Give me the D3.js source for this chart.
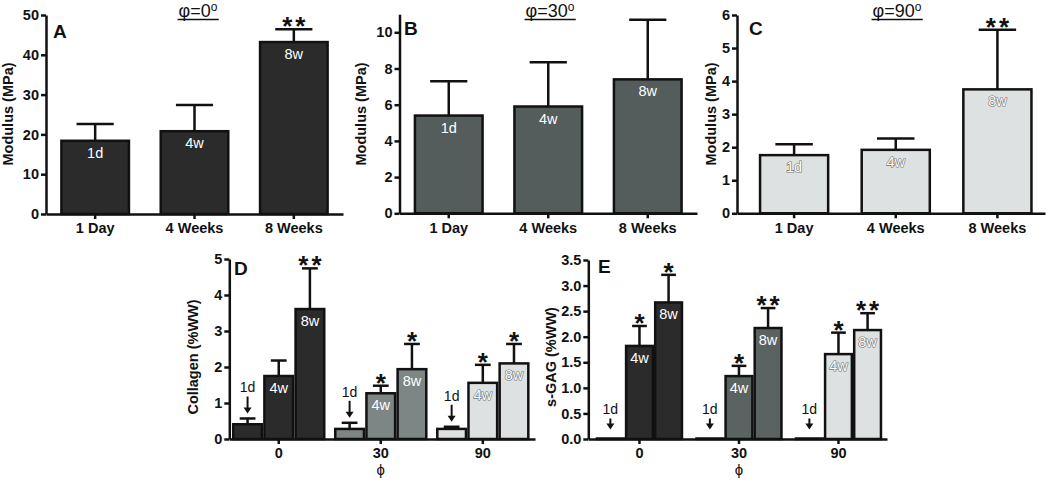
<!DOCTYPE html>
<html>
<head>
<meta charset="utf-8">
<script src="https://cdn.jsdelivr.net/npm/d3@7"></script>
<style>
  html, body { margin: 0; padding: 0; background: #fff; }
  svg { display: block; }
  text { font-family: "Liberation Sans", Arial, sans-serif; }
</style>
</head>
<body>
<svg id="chart" width="1050" height="484"></svg>
<script>
// ---------- DATA ----------
const timeCats = ["1 Day", "4 Weeks", "8 Weeks"];
const timeTags = ["1d", "4w", "8w"];

const modA = [18.4, 20.8, 43.2];
const sdA  = [4.2, 6.6, 3.2];
const sigA = ["", "", "**"];

const modB = [5.4, 5.9, 7.4];
const sdB  = [1.9, 2.45, 3.3];
const sigB = ["", "", ""];

const modC = [1.76, 1.92, 3.75];
const sdC  = [0.33, 0.34, 1.8];
const sigC = ["", "", "**"];

const angles = ["0", "30", "90"];

const col1d = [0.41, 0.28, 0.28];
const col4w = [1.75, 1.27, 1.56];
const col8w = [3.61, 1.94, 2.10];
const colSd1d = [0.16, 0.17, 0.06];
const colSd4w = [0.43, 0.21, 0.50];
const colSd8w = [1.13, 0.70, 0.54];
const colSig4w = ["", "*", "*"];
const colSig8w = ["**", "*", "*"];

const gag1d = [0.01, 0.01, 0.01];
const gag4w = [1.82, 1.23, 1.66];
const gag8w = [2.67, 2.17, 2.13];
const gagSd1d = [0, 0, 0];
const gagSd4w = [0.39, 0.20, 0.42];
const gagSd8w = [0.54, 0.39, 0.33];
const gagSig4w = ["*", "*", "*"];
const gagSig8w = ["*", "**", "**"];

const ticksA = [0, 10, 20, 30, 40, 50];
const ticksB = [0, 2, 4, 6, 8, 10];
const ticksC = [0, 1, 2, 3, 4, 5, 6];
const ticksD = [0, 1, 2, 3, 4, 5];
const ticksE = [0, 0.5, 1, 1.5, 2, 2.5, 3, 3.5];

// ---------- STYLE ----------
const DARK = "#2b2b2b", MID = "#545c5c", MIDL = "#7d8585", LIGHT = "#dde1e1";
const FONT = '"Liberation Sans", Arial, sans-serif';
const svg = d3.select("#chart");

function styleAxis(g) {
  g.selectAll(".domain").attr("stroke", "#111").attr("stroke-width", 2.5);
  g.selectAll(".tick line").attr("stroke", "#111").attr("stroke-width", 2.5);
  g.selectAll(".tick text").attr("fill", "#111").attr("font-weight", "bold")
    .attr("font-size", 14.5).attr("font-family", FONT);
}

function yLabel(x, yc, txt) {
  svg.append("text").attr("transform", `translate(${x},${yc}) rotate(-90)`)
    .attr("text-anchor", "middle").attr("font-weight", "bold").attr("font-size", 14.5)
    .attr("fill", "#111").text(txt);
}

function letter(x, y, t) {
  svg.append("text").attr("x", x).attr("y", y).attr("font-size", 19)
    .attr("font-weight", "bold").attr("fill", "#111").text(t);
}

function title(cx, y, ang) {
  const t = svg.append("text").attr("x", cx).attr("y", y).attr("text-anchor", "middle")
    .attr("font-size", 18).attr("fill", "#111");
  t.append("tspan").text("φ=" + ang);
  t.append("tspan").attr("font-size", 12).attr("dy", -6).text("o");
  const bb = t.node().getBBox();
  svg.append("line").attr("x1", bb.x - 1).attr("x2", bb.x + bb.width + 1)
    .attr("y1", y + 3).attr("y2", y + 3).attr("stroke", "#111").attr("stroke-width", 1.5);
}

function bar(g, x, w, y, y0, yErr, fill, tag, tagFill, sig) {
  const cx = x + w / 2, cap = w * 0.55;
  if (yErr < y - 0.5) {
    g.append("line").attr("x1", cx).attr("x2", cx).attr("y1", y).attr("y2", yErr)
      .attr("stroke", "#111").attr("stroke-width", 2.5);
    g.append("line").attr("x1", cx - cap / 2).attr("x2", cx + cap / 2).attr("y1", yErr).attr("y2", yErr)
      .attr("stroke", "#111").attr("stroke-width", 2.5);
  }
  g.append("rect").attr("x", x).attr("y", y).attr("width", w).attr("height", Math.max(0, y0 - y))
    .attr("fill", fill).attr("stroke", "#111").attr("stroke-width", 2.5);
  if (tag) {
    g.append("text").attr("x", cx).attr("y", y + 17).attr("text-anchor", "middle")
      .attr("font-size", 14.5).attr("fill", "#fff")
      .attr("stroke", tagFill === "outline" ? "#6e7272" : "none").attr("stroke-width", 1.2)
      .attr("paint-order", "stroke")
      .text(tag);
  }
  if (sig) {
    g.append("text").attr("x", cx + 1.5).attr("y", yErr + 6).attr("text-anchor", "middle")
      .attr("font-size", 26).attr("font-weight", "bold").attr("letter-spacing", 3)
      .attr("fill", "#111").text(sig);
  }
}

// ---------- SIMPLE PANELS (A, B, C) ----------
function simplePanel(cfg) {
  const x = d3.scaleBand().domain(timeCats).range([cfg.x0, cfg.x1])
    .paddingInner(cfg.pi).paddingOuter(cfg.po).align(cfg.align);
  const y = d3.scaleLinear().domain([0, cfg.max]).range([cfg.y0, cfg.y1]);
  const g = svg.append("g");
  timeCats.forEach((c, i) => {
    bar(g, x(c), x.bandwidth(), y(cfg.vals[i]), y(0), y(cfg.vals[i] + cfg.sd[i]),
        cfg.fill, timeTags[i], cfg.tagStyle, cfg.sig[i]);
  });
  const ya = svg.append("g").attr("transform", `translate(${cfg.x0},0)`)
    .call(d3.axisLeft(y).tickValues(cfg.ticks).tickFormat(d3.format("d"))
      .tickSize(5).tickSizeOuter(0).tickPadding(2));
  styleAxis(ya);
  const xa = svg.append("g").attr("transform", `translate(0,${cfg.y0})`)
    .call(d3.axisBottom(x).tickSize(5).tickSizeOuter(0).tickPadding(4));
  styleAxis(xa);
}

simplePanel({ x0: 46, x1: 343, y0: 214, y1: 15, max: 50, pi: 0.32, po: 0.155, align: 0.5,
  vals: modA, sd: sdA, sig: sigA, ticks: ticksA, fill: DARK, tagStyle: "plain" });
simplePanel({ x0: 399.5, x1: 697, y0: 213.3, y1: 14.2, max: 11, pi: 0.32, po: 0.155, align: 0.5,
  vals: modB, sd: sdB, sig: sigB, ticks: ticksB, fill: MID, tagStyle: "plain" });
simplePanel({ x0: 737, x1: 1045, y0: 213.3, y1: 15, max: 6, pi: 0.33, po: 0.18, align: 0.63,
  vals: modC, sd: sdC, sig: sigC, ticks: ticksC, fill: LIGHT, tagStyle: "outline" });

yLabel(13, 114, "Modulus (MPa)");
yLabel(366, 114, "Modulus  (MPa)");
yLabel(716, 114, "Modulus (MPa)");
letter(53, 37.5, "A");
letter(404, 35, "B");
letter(749, 35, "C");
title(198, 16.5, "0");
title(550, 16.5, "30");
title(897, 16.5, "90");

// ---------- GROUPED PANELS (D, E) ----------
function arrow(cx, tipY, len, label) {
  svg.append("line").attr("x1", cx).attr("x2", cx).attr("y1", tipY - len).attr("y2", tipY - 5)
    .attr("stroke", "#111").attr("stroke-width", 2);
  svg.append("path").attr("d", `M${cx - 4},${tipY - 6} L${cx + 4},${tipY - 6} L${cx},${tipY} Z`)
    .attr("fill", "#111");
  svg.append("text").attr("x", cx).attr("y", tipY - len - 4).attr("text-anchor", "middle")
    .attr("font-size", 14).attr("fill", "#111").text(label);
}

function groupPanel(cfg) {
  const x = d3.scaleBand().domain(angles).range([cfg.x0, cfg.x1])
    .paddingInner(cfg.pi).paddingOuter(cfg.po).align(cfg.align);
  const xi = d3.scaleBand().domain(timeTags).range([0, x.bandwidth()]).paddingInner(0.08);
  const y = d3.scaleLinear().domain([0, cfg.max]).range([cfg.y0, cfg.y1]);
  const g = svg.append("g");
  const series = [cfg.s1d, cfg.s4w, cfg.s8w];
  const sds = [cfg.sd1d, cfg.sd4w, cfg.sd8w];
  const sigs = [["", "", ""], cfg.sig4w, cfg.sig8w];
  angles.forEach((a, gi) => {
    timeTags.forEach((t, ti) => {
      const v = series[ti][gi];
      const bx = x(a) + xi(t);
      bar(g, bx, xi.bandwidth(), y(v), y(0), y(v + sds[ti][gi]), cfg.fills[gi],
          ti === 0 ? "" : t, gi === 2 ? "outline" : "plain", sigs[ti][gi]);
      if (ti === 0) arrow(bx + xi.bandwidth() / 2, y(v + sds[ti][gi]) - cfg.arrowGap, cfg.arrowLen, t);
    });
  });
  const ya = svg.append("g").attr("transform", `translate(${cfg.x0},0)`)
    .call(d3.axisLeft(y).tickValues(cfg.ticks).tickFormat(cfg.fmt).tickSize(5).tickSizeOuter(0).tickPadding(2));
  styleAxis(ya);
  const xa = svg.append("g").attr("transform", `translate(0,${cfg.y0})`)
    .call(d3.axisBottom(x).tickSize(5).tickSizeOuter(0).tickPadding(4));
  styleAxis(xa);
  svg.append("text").attr("x", x(angles[1]) + x.bandwidth() / 2).attr("y", cfg.y0 + 36)
    .attr("text-anchor", "middle").attr("font-size", 15).attr("fill", "#111").text("ϕ");
}

groupPanel({ x0: 229.3, x1: 535, y0: 439, y1: 259, max: 5, pi: 0.108, po: 0.052, align: 0.37,
  s1d: col1d, s4w: col4w, s8w: col8w, sd1d: colSd1d, sd4w: colSd4w, sd8w: colSd8w,
  sig4w: colSig4w, sig8w: colSig8w, ticks: ticksD, fmt: d3.format("d"),
  fills: [DARK, MIDL, LIGHT], arrowGap: 5, arrowLen: 17 });
groupPanel({ x0: 588.3, x1: 887, y0: 439, y1: 260, max: 3.5, pi: 0.146, po: 0.074, align: 0.59,
  s1d: gag1d, s4w: gag4w, s8w: gag8w, sd1d: gagSd1d, sd4w: gagSd4w, sd8w: gagSd8w,
  sig4w: gagSig4w, sig8w: gagSig8w, ticks: ticksE, fmt: d3.format(".1f"),
  fills: [DARK, "#5a6262", LIGHT], arrowGap: 9, arrowLen: 11 });

yLabel(198, 357, "Collagen (%WW)");
yLabel(556, 357, "s-GAG (%WW)");
letter(234, 275, "D");
letter(598, 273, "E");
</script>
</body>
</html>
